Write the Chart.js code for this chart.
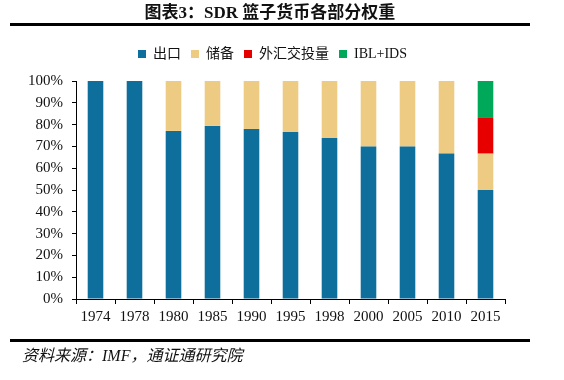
<!DOCTYPE html>
<html><head><meta charset="utf-8">
<script src="https://cdn.jsdelivr.net/npm/chart.js@4.4.1/dist/chart.umd.min.js"></script>
<style>
html,body{margin:0;padding:0;background:#fff;}
#wrap{position:relative;width:564px;height:380px;overflow:hidden;}
#c{position:absolute;left:0;top:0;}
.title{position:absolute;left:0;width:540px;top:2px;text-align:center;font:bold 17px "Liberation Serif","Noto Sans CJK SC",serif;color:#111;line-height:21px;}
.rule{position:absolute;left:10px;width:520px;height:3px;background:#000;}
.foot{position:absolute;left:22px;top:346px;font:italic 16px "Liberation Serif","Noto Sans CJK SC",serif;color:#111;line-height:20px;}
</style></head>
<body><div id="wrap">
<canvas id="c" width="564" height="380"></canvas>
<div class="title">图表3：SDR 篮子货币各部分权重</div>
<div class="rule" style="top:23px"></div>
<div class="rule" style="top:339px"></div>
<div class="foot">资料来源：IMF，通证通研究院</div>
</div>
<script>
const categories = ["1974","1978","1980","1985","1990","1995","1998","2000","2005","2010","2015"];
const seriesNames = ["出口","储备","外汇交投量","IBL+IDS"];
const exportsShare = [100,100,77.1,79.4,78,76.6,73.9,70,70,66.7,50];
const reservesShare = [0,0,22.9,20.6,22,23.4,26.1,30,30,33.3,16.67];
const fxTurnover = [0,0,0,0,0,0,0,0,0,0,16.67];
const iblIds = [0,0,0,0,0,0,0,0,0,0,16.66];
const yTicks = [0,10,20,30,40,50,60,70,80,90,100];

const colors = ["#0E6E9C","#EDCB82","#E60000","#00A85A"];
const fam = '"Liberation Serif","Noto Sans CJK SC",serif';

const legendFix = {
  id:'legendFix',
  beforeUpdate(chart){
    const lg = chart.legend;
    if (lg && !lg._fixed){
      const orig = lg.fit.bind(lg);
      lg.fit = function(){ orig(); this.height = 44; };
      lg._fixed = true;
    }
  },
  afterLayout(chart){
    const lg = chart.legend;
    if (lg){ lg.left += 20; lg.right += 20; }
  }
};

new Chart(document.getElementById('c'), {
  type:'bar',
  data:{
    labels:categories,
    datasets:[exportsShare,reservesShare,fxTurnover,iblIds].map((d,i)=>({
      label:seriesNames[i], data:d, backgroundColor:colors[i],
      barPercentage:0.8, categoryPercentage:0.5, borderWidth:0
    }))
  },
  options:{
    responsive:false, animation:false,
    layout:{padding:{left:0,right:59,top:37,bottom:51}},
    plugins:{
      tooltip:{enabled:false},
      legend:{position:'top',labels:{boxWidth:8,boxHeight:8,padding:10,font:{family:fam,size:14},color:'#111'}},
      title:{display:false}
    },
    scales:{
      x:{stacked:true,
        grid:{display:true,drawOnChartArea:false,drawTicks:true,tickLength:5,color:'#000',offset:true},
        border:{color:'#000',width:1},
        ticks:{font:{family:fam,size:15},color:'#111',padding:4,maxRotation:0},
        afterFit(s){s.height=30;}
      },
      y:{stacked:true,min:0,max:100,
        afterBuildTicks(s){s.ticks=yTicks.map(v=>({value:v}));},
        grid:{display:true,drawOnChartArea:false,drawTicks:true,tickLength:4,color:'#000'},
        border:{color:'#000',width:1},
        ticks:{font:{family:fam,size:15},color:'#111',padding:9,callback:v=>v+'%'},
        afterFit(s){s.width=76;}
      }
    }
  },
  plugins:[legendFix]
});
</script>
</body></html>
